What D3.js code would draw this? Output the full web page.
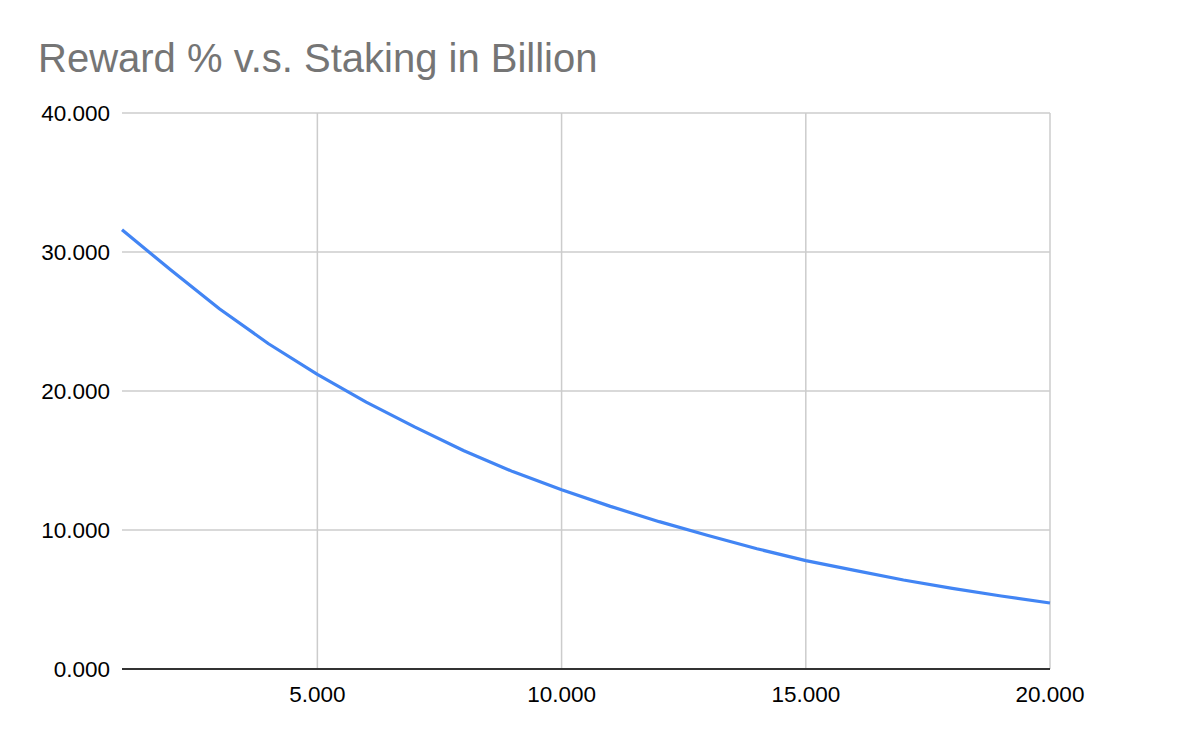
<!DOCTYPE html>
<html>
<head>
<meta charset="utf-8">
<script src="https://cdn.jsdelivr.net/npm/d3@7"></script>
<style>
  html, body { margin: 0; padding: 0; background: #fff; }
  svg { display: block; font-family: "Liberation Sans", Arial, sans-serif; }
</style>
</head>
<body>
<svg id="chart" width="1200" height="742"></svg>
<script>
// Data
const title = "Reward % v.s. Staking in Billion";
const staking = [1, 2, 3, 4, 5, 6, 7, 8, 9, 10, 11, 12, 13, 14, 15, 16, 17, 18, 19, 20];
const reward = [31.6, 28.7, 25.9, 23.4, 21.2, 19.2, 17.4, 15.7, 14.2, 12.9,
                11.7, 10.6, 9.6, 8.65, 7.8, 7.1, 6.4, 5.8, 5.25, 4.75];
const xTicks = [5, 10, 15, 20];
const yTicks = [0, 10, 20, 30, 40];

(function () {
const svg = d3.select("#chart");
const mLeft = 122, mRight = 1050, mTop = 113, mBottom = 669;

const x = d3.scaleLinear().domain([1, 20]).range([mLeft, mRight]);
const y = d3.scaleLinear().domain([0, 40]).range([mBottom, mTop]);
const fmtLbl = d3.format(".3f");

// title
svg.append("text")
  .attr("x", 38).attr("y", 72)
  .attr("font-size", 40)
  .attr("fill", "#757575")
  .text(title);

// horizontal gridlines
svg.append("g").selectAll("line").data(yTicks.filter(d => d !== 0)).join("line")
  .attr("x1", mLeft).attr("x2", mRight)
  .attr("y1", d => y(d)).attr("y2", d => y(d))
  .attr("stroke", "#cccccc").attr("stroke-width", 1.5);

// vertical gridlines
svg.append("g").selectAll("line").data(xTicks).join("line")
  .attr("x1", d => x(d)).attr("x2", d => x(d))
  .attr("y1", mTop).attr("y2", mBottom)
  .attr("stroke", "#cccccc").attr("stroke-width", 1.5);

// y labels
svg.append("g").selectAll("text").data(yTicks).join("text")
  .attr("x", 110).attr("y", d => y(d))
  .attr("dy", "0.36em")
  .attr("text-anchor", "end")
  .attr("font-size", 22.5)
  .attr("fill", "#000")
  .text(fmtLbl);

// x labels
svg.append("g").selectAll("text").data(xTicks).join("text")
  .attr("x", d => x(d)).attr("y", 702)
  .attr("text-anchor", "middle")
  .attr("font-size", 22.5)
  .attr("fill", "#000")
  .text(fmtLbl);

// line
const line = d3.line().x((d, i) => x(staking[i])).y(d => y(d));
svg.append("path")
  .datum(reward)
  .attr("d", line)
  .attr("fill", "none")
  .attr("stroke", "#4285f4")
  .attr("stroke-width", 3.2)
  .attr("stroke-linejoin", "round");

// zero axis
svg.append("line")
  .attr("x1", mLeft).attr("x2", mRight)
  .attr("y1", y(0)).attr("y2", y(0))
  .attr("stroke", "#333333").attr("stroke-width", 2);
})();
</script>
</body>
</html>
